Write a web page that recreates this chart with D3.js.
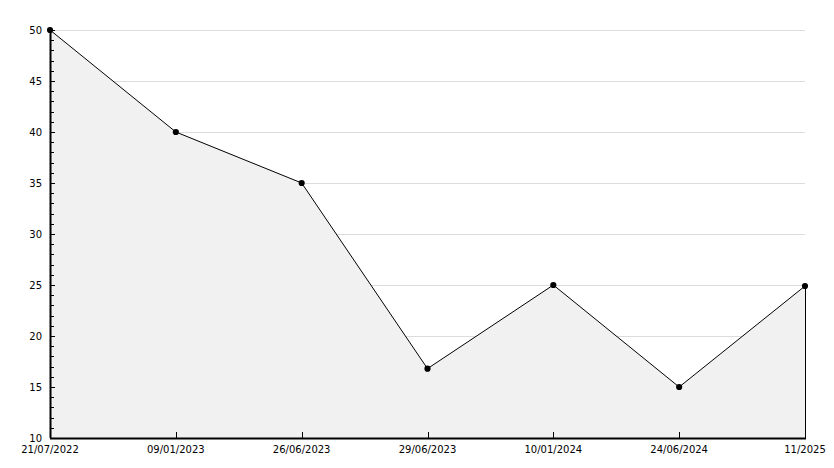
<!DOCTYPE html>
<html>
<head>
<meta charset="utf-8">
<script src="https://cdn.jsdelivr.net/npm/d3@7"></script>
<style>
  body { margin: 0; background: #fff; }
  text { font-family: "DejaVu Sans", Verdana, sans-serif; font-size: 10px; fill: #000; }
</style>
</head>
<body>
<svg class="chart"></svg>
<script>
const dates = ["21/07/2022", "09/01/2023", "26/06/2023", "29/06/2023", "10/01/2024", "24/06/2024", "11/2025"]
const values = [50, 40, 35, 16.8, 25, 15, 24.9]
const yMajorTicks = [10, 15, 20, 25, 30, 35, 40, 45, 50]
const yMinorTicks = d3.range(10, 51, 1)

const width = 834
const height = 468
const plotLeft = 50, plotRight = 805, plotTop = 30, plotBottom = 438

const svg = d3.select("svg.chart")
    .attr("width", width)
    .attr("height", height)

const x = d3.scalePoint()
    .domain(dates)
    .range([plotLeft, plotRight])

const y = d3.scaleLinear()
    .domain([10, 50])
    .range([plotBottom, plotTop])

// gridlines
svg.append("g")
    .selectAll("line")
    .data(yMajorTicks.filter(d => d > 10))
    .enter()
    .append("line")
    .attr("x1", plotLeft)
    .attr("x2", plotRight)
    .attr("y1", d => Math.round(y(d)) + 0.5)
    .attr("y2", d => Math.round(y(d)) + 0.5)
    .style("stroke", "#dcdcdc")

const data = dates.map((d, i) => ({ date: d, value: values[i] }))

// area
const area = d3.area()
    .x(d => x(d.date))
    .y0(y(10))
    .y1(d => y(d.value))

svg.append("path")
    .datum(data)
    .attr("d", area)
    .style("fill", "#f1f1f1")

const line = d3.line()
    .x(d => x(d.date))
    .y(d => y(d.value))

svg.append("path")
    .datum(data)
    .attr("d", line)
    .style("fill", "none")
    .style("stroke", "#000")
    .style("stroke-width", 1)

// right edge of the area
const last = data[data.length - 1]
svg.append("line")
    .attr("x1", x(last.date) + 0.5)
    .attr("x2", x(last.date) + 0.5)
    .attr("y1", y(last.value))
    .attr("y2", y(10))
    .style("stroke", "#000")

// y axis
const yAxis = svg.append("g")
yAxis.append("line")
    .attr("x1", plotLeft + 0.5).attr("x2", plotLeft + 0.5)
    .attr("y1", plotTop).attr("y2", plotBottom)
    .style("stroke", "#000")
    .style("stroke-width", 2)

yAxis.selectAll(".minor")
    .data(yMinorTicks.filter(d => d % 5 !== 0))
    .enter()
    .append("line")
    .attr("x1", plotLeft).attr("x2", plotLeft + 4)
    .attr("y1", d => Math.round(y(d)) + 0.5)
    .attr("y2", d => Math.round(y(d)) + 0.5)
    .style("stroke", "#000")

yAxis.selectAll(".major")
    .data(yMajorTicks)
    .enter()
    .append("line")
    .attr("x1", plotLeft).attr("x2", plotLeft + 5)
    .attr("y1", d => Math.round(y(d)) + 0.5)
    .attr("y2", d => Math.round(y(d)) + 0.5)
    .style("stroke", "#000")

yAxis.selectAll("text")
    .data(yMajorTicks)
    .enter()
    .append("text")
    .attr("x", plotLeft - 8)
    .attr("y", d => y(d) + 1)
    .attr("dy", "0.32em")
    .attr("text-anchor", "end")
    .text(d => d)

// x axis
const xAxis = svg.append("g")
xAxis.append("line")
    .attr("x1", plotLeft).attr("x2", plotRight + 1)
    .attr("y1", plotBottom + 0.5).attr("y2", plotBottom + 0.5)
    .style("stroke", "#000")
    .style("stroke-width", 2)

xAxis.selectAll(".tick")
    .data(dates)
    .enter()
    .append("line")
    .attr("x1", d => Math.round(x(d)) + 0.5)
    .attr("x2", d => Math.round(x(d)) + 0.5)
    .attr("y1", plotBottom - 6)
    .attr("y2", plotBottom)
    .style("stroke", "#000")

xAxis.selectAll("text")
    .data(dates)
    .enter()
    .append("text")
    .attr("x", d => x(d))
    .attr("y", plotBottom + 12)
    .attr("dy", "0.32em")
    .attr("text-anchor", "middle")
    .text(d => d)

// markers
svg.append("g")
    .selectAll("path")
    .data(data)
    .enter()
    .append("path")
    .attr("d", d3.symbol().type(d3.symbolCircle).size(30))
    .attr("transform", d => "translate(" + x(d.date) + "," + y(d.value) + ")")
    .style("fill", "#000")
</script>
</body>
</html>
